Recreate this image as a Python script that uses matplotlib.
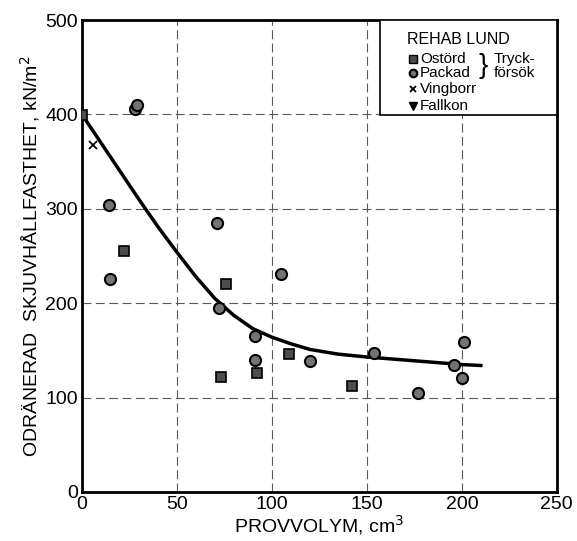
import matplotlib.pyplot as plt
from matplotlib.patches import Rectangle

plt.rcParams['font.family'] = ['Liberation Sans', 'DejaVu Sans']

# Ostörd (squares)
ostord_x = [0, 22, 76, 73, 92, 109, 142]
ostord_y = [399, 255, 220, 122, 126, 146, 112]

# Packad (circles)
packad_x = [28, 29, 14, 15, 71, 105, 72, 91, 91, 120, 154, 177, 201, 196, 200]
packad_y = [406, 410, 304, 226, 285, 231, 195, 165, 140, 139, 147, 105, 159, 134, 121]

# Vingborr (x)
ving_x = [6]
ving_y = [368]

# fitted curve
curve_x = [0, 10, 20, 30, 40, 50, 60, 70, 80, 90, 100, 110, 120, 135, 150, 175, 200, 210]
curve_y = [400, 370, 340, 310, 281, 254, 228, 205, 187, 173, 164, 157, 151, 146, 143, 139, 135, 134]

legend_labels = ['Ostörd', 'Packad', 'Vingborr', 'Fallkon']

fig = plt.figure(figsize=(5.77, 5.41), dpi=100)
ax = fig.add_axes([0.142, 0.0906, 0.823, 0.8724])

ax.set_xlim(0, 250)
ax.set_ylim(0, 500)
ax.set_xticks([0, 50, 100, 150, 200, 250])
ax.set_yticks([0, 100, 200, 300, 400, 500])
ax.tick_params(direction='in', length=0, labelsize=14, pad=3)
ax.grid(True, color='0.35', linestyle=(0, (8, 4)), linewidth=0.8)
for s in ax.spines.values():
    s.set_linewidth(2)

ax.plot(curve_x, curve_y, color='black', linewidth=2.5, zorder=3)
ax.plot(ostord_x, ostord_y, 's', markersize=7, markerfacecolor='0.3',
        markeredgecolor='black', markeredgewidth=1.2, linestyle='none', zorder=4)
ax.plot(packad_x, packad_y, 'o', markersize=8, markerfacecolor='0.45',
        markeredgecolor='black', markeredgewidth=1.5, linestyle='none', zorder=4)
ax.plot(ving_x, ving_y, 'x', markersize=6, color='black', markeredgewidth=1.3,
        linestyle='none', zorder=4)

ax.set_xlabel('PROVVOLYM, cm$^3$', fontsize=14, labelpad=0)
ax.set_ylabel('ODRÄNERAD  SKJUVHÅLLFASTHET, kN/m$^2$', fontsize=14, labelpad=2)

# legend box drawn by hand
tr = ax.transAxes
ax.add_patch(Rectangle((0.627, 0.799), 0.373, 0.201, transform=tr, facecolor='white',
                       edgecolor='black', linewidth=1.2, zorder=5))
ax.text(0.685, 0.958, 'REHAB LUND', transform=tr, fontsize=11.5, va='center', ha='left', zorder=6)
ly = [0.918, 0.887, 0.853, 0.818]
ax.plot(0.697, ly[0], 's', transform=tr, markersize=5.5, markerfacecolor='0.3',
        markeredgecolor='black', zorder=6, clip_on=False)
ax.plot(0.697, ly[1], 'o', transform=tr, markersize=5.5, markerfacecolor='0.45',
        markeredgecolor='black', markeredgewidth=1.5, zorder=6, clip_on=False)
ax.plot(0.697, ly[2], 'x', transform=tr, markersize=5, color='black',
        markeredgewidth=1.3, zorder=6, clip_on=False)
ax.plot(0.697, ly[3], 'v', transform=tr, markersize=5.5, color='black', zorder=6, clip_on=False)
for lab, yy in zip(legend_labels, ly):
    ax.text(0.712, yy, lab, transform=tr, fontsize=11, va='center', ha='left', zorder=6)
ax.text(0.835, 0.902, '}', transform=tr, fontsize=20, va='center', ha='left', zorder=6)
ax.text(0.868, 0.902, 'Tryck-\nförsök', transform=tr, fontsize=11,
        va='center', ha='left', linespacing=1.0, zorder=6)

fig.savefig('out.png', dpi=100)
